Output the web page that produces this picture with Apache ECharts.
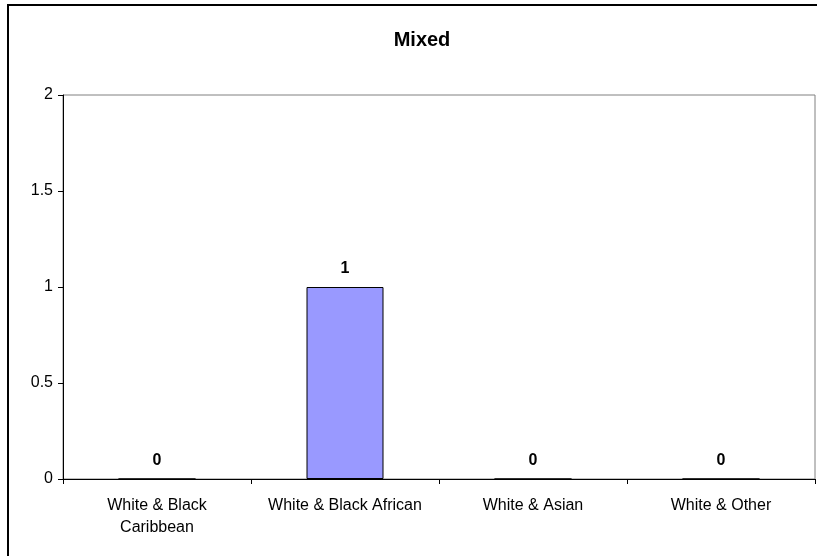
<!DOCTYPE html>
<html>
<head>
<meta charset="utf-8">
<script src="https://cdn.jsdelivr.net/npm/echarts@6/dist/echarts.min.js"></script>
<style>
  html, body { margin: 0; padding: 0; background: #fff; }
  #chart { width: 817px; height: 556px; }
</style>
</head>
<body>
<div id="chart"></div>
<script>
// Mixed ethnic group counts
const categories = ['White & Black\nCaribbean', 'White & Black African', 'White & Asian', 'White & Other'];
const counts = [0, 1, 0, 0];
const yTicks = [0, 0.5, 1, 1.5, 2];

const chart = echarts.init(document.getElementById('chart'), null, { renderer: 'canvas' });
const font = 'Arial, "Liberation Sans", sans-serif';

chart.setOption({
  backgroundColor: '#ffffff',
  animation: false,
  title: {
    text: 'Mixed',
    left: 417,
    textAlign: 'center',
    top: 25,
    textStyle: { fontFamily: font, fontSize: 20, fontWeight: 'bold', color: '#000' }
  },
  graphic: [{
    type: 'rect',
    shape: { x: 8, y: 5, width: 900, height: 700 },
    style: { fill: 'none', stroke: '#000', lineWidth: 2 },
    silent: true,
    z: 100
  }],
  grid: {
    left: 63, top: 95, right: 2, bottom: 77,
    show: true, borderColor: '#808080', borderWidth: 1,
    containLabel: false
  },
  xAxis: {
    type: 'category',
    data: categories,
    axisLine: { lineStyle: { color: '#000', width: 1 } },
    axisTick: { show: true, length: 5, lineStyle: { color: '#000' } },
    axisLabel: { fontFamily: font, fontSize: 16, color: '#000', margin: 16, lineHeight: 22, interval: 0 }
  },
  yAxis: {
    type: 'value',
    min: yTicks[0],
    max: yTicks[yTicks.length - 1],
    interval: yTicks[1] - yTicks[0],
    splitLine: { show: false },
    axisLine: { show: true, lineStyle: { color: '#000', width: 1 } },
    axisTick: { show: true, length: 5, lineStyle: { color: '#000' } },
    axisLabel: { fontFamily: font, fontSize: 16, color: '#000', margin: 10 }
  },
  series: [{
    type: 'bar',
    data: counts,
    barWidth: 77,
    itemStyle: { color: '#9999FF', borderColor: '#000', borderWidth: 1 },
    label: {
      show: true,
      position: 'top',
      distance: 10,
      fontFamily: font,
      fontSize: 16,
      fontWeight: 'bold',
      color: '#000'
    }
  }]
});
</script>
</body>
</html>
